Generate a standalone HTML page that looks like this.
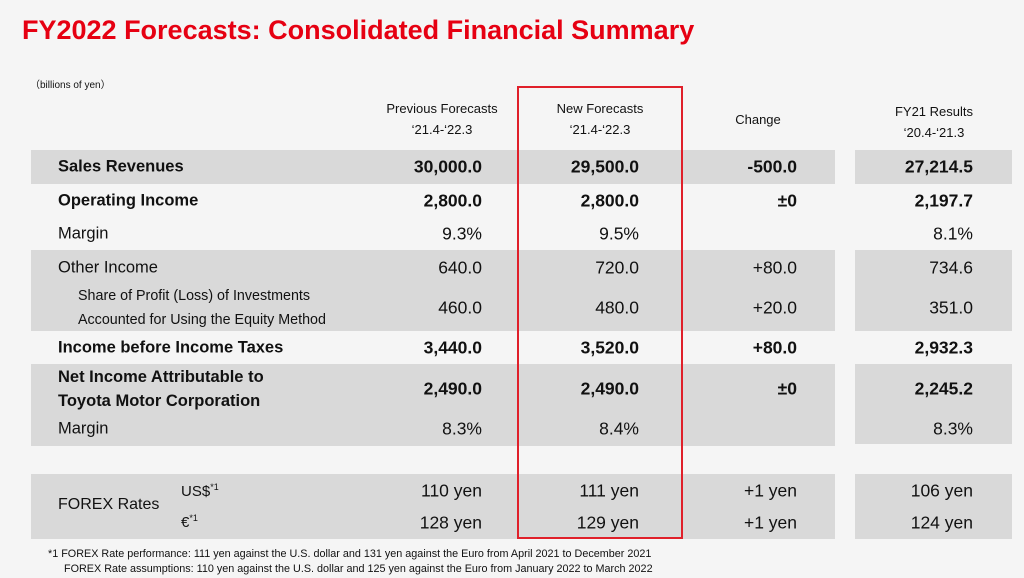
<!DOCTYPE html>
<html><head><meta charset="utf-8"><style>
body{margin:0;width:1024px;height:578px;background:#f5f5f5;position:relative;overflow:hidden;font-family:"Liberation Sans",sans-serif;color:#111}
.a{position:absolute;white-space:nowrap}
.band{position:absolute;background:#d9d9d9}
.r{text-align:right;transform:translateY(-50%)}
.l{transform:translateY(-50%)}
.b{font-weight:bold}
.h{font-size:13px;text-align:center;line-height:21px}
</style></head><body>
<div class="a b" style="left:22px;top:15px;font-size:27px;color:#e60012">FY2022 Forecasts: Consolidated Financial Summary</div>
<div class="a" style="left:30px;top:76px;font-size:10px">（billions of yen）</div>

<div class="band" style="left:31px;top:150px;width:804px;height:34px"></div>
<div class="band" style="left:31px;top:250px;width:804px;height:81px"></div>
<div class="band" style="left:31px;top:364px;width:804px;height:82px"></div>
<div class="band" style="left:31px;top:474px;width:804px;height:65px"></div>
<div class="band" style="left:855px;top:150px;width:157px;height:34px"></div>
<div class="band" style="left:855px;top:250px;width:157px;height:81px"></div>
<div class="band" style="left:855px;top:364px;width:157px;height:80px"></div>
<div class="band" style="left:855px;top:474px;width:157px;height:65px"></div>

<div class="a" style="left:517px;top:86px;width:162px;height:449px;border:2px solid #e0202a"></div>

<div class="a h" style="left:362px;top:98px;width:160px">Previous Forecasts<br>‘21.4-‘22.3</div>
<div class="a h" style="left:520px;top:98px;width:160px">New Forecasts<br>‘21.4-‘22.3</div>
<div class="a h" style="left:678px;top:109px;width:160px">Change</div>
<div class="a h" style="left:854px;top:101px;width:160px">FY21 Results<br>‘20.4-‘21.3</div>

<div id="rows"></div>
<div class="a" style="left:58px;top:505px;font-size:16px;transform:translateY(-50%)">FOREX Rates</div>
<div class="a" style="left:181px;top:491px;font-size:15px;transform:translateY(-50%)">US$<sup style="font-size:9px">*1</sup></div>
<div class="a" style="left:181px;top:522px;font-size:15px;transform:translateY(-50%)">€<sup style="font-size:9px">*1</sup></div>

<div class="a" style="left:48px;top:548px;font-size:10.8px">*1 FOREX Rate performance: 111 yen against the U.S. dollar and 131 yen against the Euro from April 2021 to December 2021</div>
<div class="a" style="left:64px;top:563px;font-size:10.8px">FOREX Rate assumptions: 110 yen against the U.S. dollar and 125 yen against the Euro from January 2022 to March 2022</div>

<script>
const labels=["Sales Revenues","Operating Income","Margin","Other Income","Share of Profit (Loss) of Investments|Accounted for Using the Equity Method","Income before Income Taxes","Net Income Attributable to|Toyota Motor Corporation","Margin","",""];
const prev=["30,000.0","2,800.0","9.3%","640.0","460.0","3,440.0","2,490.0","8.3%","110 yen","128 yen"];
const newF=["29,500.0","2,800.0","9.5%","720.0","480.0","3,520.0","2,490.0","8.4%","111 yen","129 yen"];
const change=["-500.0","±0","","+80.0","+20.0","+80.0","±0","","+1 yen","+1 yen"];
const fy21=["27,214.5","2,197.7","8.1%","734.6","351.0","2,932.3","2,245.2","8.3%","106 yen","124 yen"];
const bold=[1,1,0,0,0,1,1,0,0,0];
const ys=[167,201,234,268,308,348,389,429,491,523];
const root=document.getElementById('rows');
function add(txt,cls,style,name){
  const d=document.createElement('div');
  d.className='a '+cls;d.style.cssText=style;d.innerHTML=txt;
  
  
  root.appendChild(d);
}
labels.forEach((lab,i)=>{
  const y=ys[i],b=bold[i]?' b':'';
  if(lab){
    const parts=lab.split('|');
    if(parts.length>1){
      const sub=i==4;
      add(parts.join('<br>'),'l'+b,`left:${sub?78:58}px;top:${y}px;font-size:${sub?14.3:16.5}px;line-height:24px`,'row-label');
    } else add(lab,'l'+b,`left:58px;top:${y}px;font-size:16.5px`,'row-label');
  }
  const fs=17.5;
  add(prev[i],'r'+b,`right:${1024-482}px;top:${y}px;font-size:${fs}px`,'previous-value');
  add(newF[i],'r'+b,`right:${1024-639}px;top:${y}px;font-size:${fs}px`,'new-value');
  if(change[i])add(change[i],'r'+b,`right:${1024-797}px;top:${y}px;font-size:${fs}px`,'change-value');
  add(fy21[i],'r'+b,`right:${1024-973}px;top:${y}px;font-size:${fs}px`,'fy21-value');
});
</script>
</body></html>
